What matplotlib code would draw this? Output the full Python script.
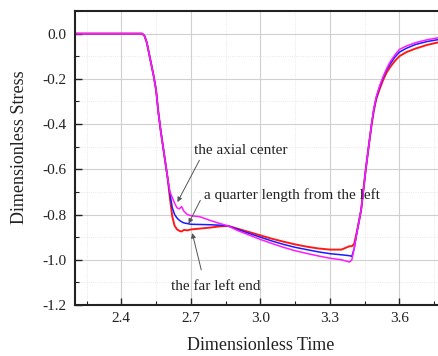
import matplotlib
matplotlib.use('Agg')
import matplotlib.pyplot as plt
from matplotlib.ticker import MultipleLocator
import numpy as np

plt.rcParams['font.family'] = 'Liberation Serif'

# Data
time = [2.20, 2.49, 2.50, 2.51, 2.52, 2.53, 2.54, 2.55, 2.56, 2.57, 2.58, 2.59, 2.60,
        2.61, 2.62, 2.63, 2.64, 2.65, 2.66, 2.67, 2.685, 2.70, 2.74, 2.78, 2.82, 2.86,
        2.90, 2.95, 3.00, 3.05, 3.10, 3.15, 3.20, 3.25, 3.30, 3.35, 3.385,
        3.395, 3.405, 3.42, 3.435, 3.455, 3.47, 3.48, 3.49, 3.50, 3.515, 3.53, 3.545,
        3.56, 3.58, 3.60, 3.63, 3.67, 3.72, 3.77]

drop = [0.0, 0.0, -0.01, -0.04, -0.09, -0.14, -0.19, -0.25, -0.35, -0.43, -0.50, -0.57, -0.64]

far_left_end = drop + [
    -0.73, -0.81, -0.85, -0.865, -0.872, -0.875, -0.868, -0.870, -0.866, -0.862, -0.858, -0.853, -0.850,
    -0.862, -0.877, -0.892, -0.907, -0.920, -0.932, -0.942, -0.950, -0.955, -0.955, -0.940,
    -0.940, -0.930, -0.86, -0.78, -0.60, -0.48, -0.405, -0.34, -0.29, -0.245, -0.205, -0.172,
    -0.148, -0.122, -0.100, -0.082, -0.066, -0.050, -0.038]

quarter_length = drop + [
    -0.71, -0.77, -0.80, -0.815, -0.825, -0.832, -0.837, -0.840, -0.843, -0.844, -0.845, -0.847, -0.850,
    -0.865, -0.883, -0.900, -0.917, -0.932, -0.945, -0.955, -0.965, -0.973, -0.978, -0.982,
    -0.985, -0.950, -0.86, -0.78, -0.60, -0.48, -0.40, -0.335, -0.285, -0.235, -0.195, -0.160,
    -0.135, -0.105, -0.082, -0.065, -0.048, -0.035, -0.026]

axial_center = drop + [
    -0.70, -0.725, -0.75, -0.77, -0.775, -0.765, -0.785, -0.800, -0.805, -0.810, -0.825, -0.838, -0.850,
    -0.870, -0.890, -0.910, -0.928, -0.945, -0.960, -0.972, -0.983, -0.993, -1.000, -1.010,
    -1.000, -0.950, -0.86, -0.78, -0.60, -0.48, -0.40, -0.33, -0.28, -0.23, -0.19, -0.155,
    -0.125, -0.095, -0.070, -0.055, -0.040, -0.027, -0.018]

fig = plt.figure(figsize=(4.39, 3.56), dpi=100)
ax = fig.add_axes([75 / 439, 51 / 356, 370.7 / 439, 294 / 356])

ax.plot(time, far_left_end, color='#ff1a1a', lw=1.4)
ax.plot(time, quarter_length, color='#1a1aff', lw=1.1)
ax.plot(time, axial_center, color='#ff1aff', lw=1.1)

ax.set_xlim(2.2, 3.8)
ax.set_ylim(-1.2, 0.1)
ax.xaxis.set_minor_locator(MultipleLocator(0.15))
ax.yaxis.set_minor_locator(MultipleLocator(0.1))
ax.set_xticks([2.4, 2.7, 3.0, 3.3, 3.6])
ax.set_xticklabels(['2.4', '2.7', '3.0', '3.3', '3.6'])
ax.set_yticks([0.0, -0.2, -0.4, -0.6, -0.8, -1.0, -1.2])
ax.set_yticklabels(['0.0', '-0.2', '-0.4', '-0.6', '-0.8', '-1.0', '-1.2'])

ax.grid(which='major', color='#d0d0d0', lw=0.8, ls='-')
ax.grid(which='minor', color='#e2e2e2', lw=0.6, ls=':')
ax.set_axisbelow(True)

ax.tick_params(which='both', direction='in', labelsize=11, color='#222222', labelcolor='#222222')
ax.tick_params(axis='y', pad=6)
ax.tick_params(axis='x', pad=5)
ax.tick_params(which='major', length=5, width=1)
ax.tick_params(which='minor', length=3, width=0.8)
for s in ax.spines.values():
    s.set_linewidth(1.5)
    s.set_color('#222222')

fig.text(261 / 439, 1 - 345 / 356, 'Dimensionless Time', fontsize=13, ha='center', va='center',
         color='#222222')
fig.text(20 / 439, 1 - 147 / 356, 'Dimensionless Stress', fontsize=13, ha='center', va='center',
         rotation=90, color='#222222')

# Annotations
arrow = dict(arrowstyle='-|>', color='#555555', lw=0.7, mutation_scale=7, shrinkA=0, shrinkB=0)
ax.text(2.715, -0.516, 'the axial center', fontsize=11, va='center', color='#222222')
ax.annotate('', xy=(2.642, -0.745), xytext=(2.737, -0.56), arrowprops=arrow)
ax.text(2.758, -0.715, 'a quarter length from the left', fontsize=11, va='center', color='#222222')
ax.annotate('', xy=(2.69, -0.84), xytext=(2.741, -0.737), arrowprops=arrow)
ax.text(2.616, -1.116, 'the far left end', fontsize=11, va='center', color='#222222')
ax.annotate('', xy=(2.706, -0.882), xytext=(2.745, -1.045), arrowprops=arrow)

fig.savefig('out.png', dpi=100)
